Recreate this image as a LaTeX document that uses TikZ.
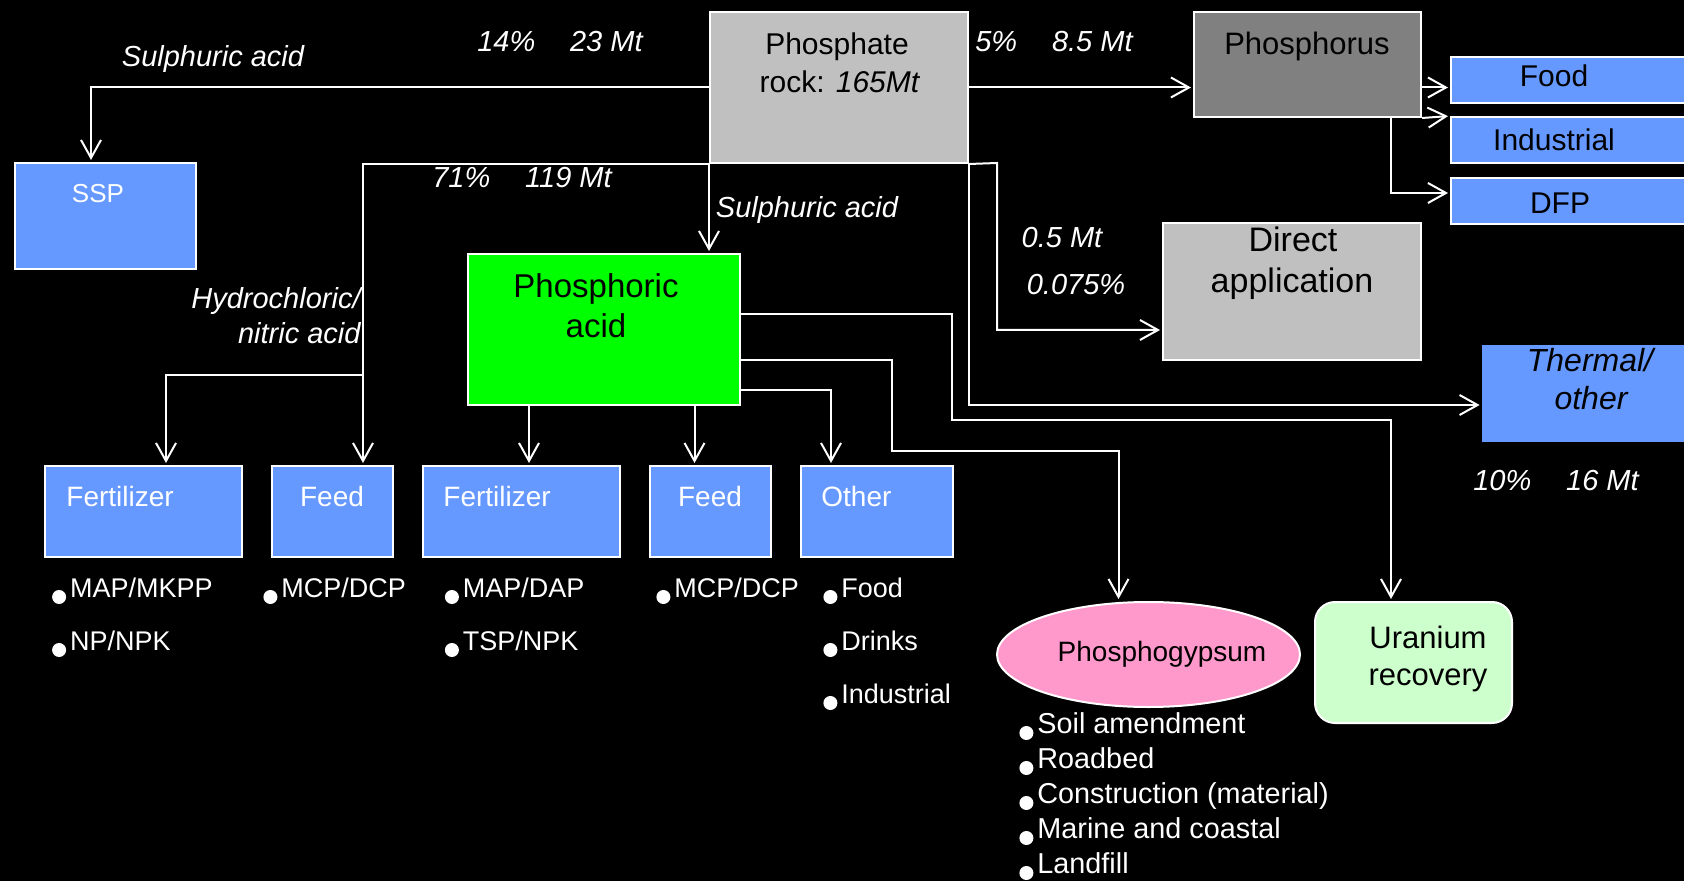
\documentclass[tikz,border=0pt]{standalone}
\usepackage{fontspec}
\setmainfont{Liberation Sans}
\usepackage{xcolor}
\usepackage{tikz}
\usetikzlibrary{arrows.meta,fit,shapes.geometric}
\definecolor{boxblue}{HTML}{6699FF}
\definecolor{acidgreen}{HTML}{00FF00}
\definecolor{rockgray}{HTML}{C0C0C0}
\definecolor{phosgray}{HTML}{808080}
\definecolor{gypsumpink}{HTML}{FF99CC}
\definecolor{uranmint}{HTML}{CCFFCC}

\newcommand{\dotitem}{\tikz[baseline=0pt]\fill[white] (0pt,0pt) circle[radius=3.5pt];\hspace{2pt}}
\newcommand{\flowgap}{\hspace{1.2em}}

\begin{document}
\begin{tikzpicture}[x=0.5pt, y=-0.5pt,
  box/.style={draw=white, line width=1pt, inner sep=0pt},
  flow/.style={draw=white, line width=1pt, shorten >=1pt,
    -{Straight Barb[length=9pt,width=10pt,line width=1pt]}},
  txt/.style={inner sep=0pt, anchor=base},
  dark/.style={txt, text=black},
  lite/.style={txt, text=white},
  flowlbl/.style={lite, font=\fontsize{14.5}{17}\selectfont\itshape}]

\fill[black] (0,0) rectangle (1684,881);
\useasboundingbox (0,0) rectangle (1684,881);
\clip (0,0) rectangle (1684,881);

% boxes
\node[box, fill=rockgray, fit={(710,12) (968,163)}] (rock) {};
\node[box, fill=phosgray, fit={(1194,12) (1421,117)}] (phos) {};
\node[box, fill=boxblue, fit={(1451,57) (1700,103)}] (food) {};
\node[box, fill=boxblue, fit={(1451,117) (1700,163)}] (ind) {};
\node[box, fill=boxblue, fit={(1451,178) (1700,224)}] (dfp) {};
\node[box, fill=rockgray, fit={(1163,223) (1421,360)}] (direct) {};
\node[fill=boxblue, inner sep=0pt, fit={(1482,345) (1700,442)}] (thermal) {};
\node[box, fill=boxblue, fit={(15,163) (196,269)}] (ssp) {};
\node[box, fill=acidgreen, fit={(468,254) (740,405)}] (acid) {};
\node[box, fill=boxblue, fit={(45,466) (242,557)}] (fertA) {};
\node[box, fill=boxblue, fit={(272,466) (393,557)}] (feedA) {};
\node[box, fill=boxblue, fit={(423,466) (620,557)}] (fertB) {};
\node[box, fill=boxblue, fit={(650,466) (771,557)}] (feedB) {};
\node[box, fill=boxblue, fit={(801,466) (953,557)}] (other) {};
\node[box, fill=gypsumpink, ellipse, minimum width=151.5pt, minimum height=52.5pt] (gyp) at (1148.5,654.5) {};
\node[box, fill=uranmint, rounded corners=10pt, fit={(1315,602) (1512,723)}] (uran) {};

% connectors
\coordinate (hcl) at (363,375);
\draw[flow] (rock.west) -| (ssp.north -| 91,0);
\draw[flow] (rock.east) -- (rock.east -| phos.west);
\draw[flow] (phos.east |- rock.east) -- (food.west |- rock.east);
\draw[flow] (phos.south east) -- (ind.north west);
\draw[flow] (phos.south -| 1391,0) |- (dfp.west |- 0,193);
\draw[flow] (rock.south west) -| (feedA.north -| 363,0);
\draw[flow] (hcl) -| (fertA.north -| 166,0);
\draw[flow] (rock.south west) -- (rock.south west |- acid.north);
\draw[flow] (rock.south east) -- (997,163) |- (direct.west |- 0,330);
\draw[flow] (rock.south east) |- (thermal.west |- 0,405);
\draw[flow] (acid.east |- 0,314) -| (952,420) -| (uran.north -| 1391,0);
\draw[flow] (acid.east |- 0,360) -| (892,451) -| (gyp.north -| 1118.5,0);
\draw[flow] (acid.east |- 0,390) -| (other.north -| 831,0);
\draw[flow] (acid.south -| 529,0) -- (fertB.north -| 529,0);
\draw[flow] (acid.south -| 694.5,0) -- (feedB.north -| 694.5,0);

% box texts
\node[dark, font=\fontsize{15}{18}\selectfont] (rockA) at (837,55) {Phosphate};
\node[dark, font=\fontsize{15}{18}\selectfont] (rockB) at (840,93) {rock: \textit{165Mt}};
\node[dark, font=\fontsize{15.5}{18}\selectfont] (phosT) at (1307,55) {Phosphorus};
\node[dark, font=\fontsize{15}{18}\selectfont] (foodT) at (1554,87) {Food};
\node[dark, font=\fontsize{15}{18}\selectfont] (indT) at (1554,151) {Industrial};
\node[dark, font=\fontsize{15}{18}\selectfont] (dfpT) at (1560,214) {DFP};
\node[dark, font=\fontsize{17}{20}\selectfont] (directA) at (1293,252) {Direct};
\node[dark, font=\fontsize{17}{20}\selectfont] (directB) at (1292,293) {application};
\node[dark, font=\fontsize{16}{19}\selectfont\itshape] (thermA) at (1590,372) {Thermal/};
\node[dark, font=\fontsize{16}{19}\selectfont\itshape] (thermB) at (1591,409) {other};
\node[lite, font=\fontsize{13}{16}\selectfont] (sspT) at (98,203) {SSP};
\node[dark, font=\fontsize{16.5}{19}\selectfont] (acidA) at (596,298) {Phosphoric};
\node[dark, font=\fontsize{16.5}{19}\selectfont] (acidB) at (596,338) {acid};
\node[lite, anchor=base west, font=\fontsize{14}{17}\selectfont] (fertAT) at (66,506) {Fertilizer};
\node[lite, font=\fontsize{14}{17}\selectfont] (feedAT) at (332,506) {Feed};
\node[lite, anchor=base west, font=\fontsize{14}{17}\selectfont] (fertBT) at (443,506) {Fertilizer};
\node[lite, font=\fontsize{14}{17}\selectfont] (feedBT) at (710,506) {Feed};
\node[lite, anchor=base west, font=\fontsize{14}{17}\selectfont] (otherT) at (821,506) {Other};
\node[dark, font=\fontsize{14}{17}\selectfont] (gypT) at (1162,661) {Phosphogypsum};
\node[dark, font=\fontsize{15.5}{18}\selectfont] (uranA) at (1428,648) {Uranium};
\node[dark, font=\fontsize{15.5}{18}\selectfont] (uranB) at (1428,685) {recovery};

% flow labels
\node[flowlbl] (sulphA) at (213,67) {Sulphuric acid};
\node[flowlbl] (shareSSP) at (560,52) {14\%\flowgap 23 Mt};
\node[flowlbl] (sharePhos) at (1054,52) {5\%\flowgap 8.5 Mt};
\node[flowlbl] (shareAcid) at (522,188) {71\%\flowgap 119 Mt};
\node[flowlbl] (sulphB) at (807,218) {Sulphuric acid};
\node[flowlbl, anchor=base east] (hclA) at (361,309) {Hydrochloric/};
\node[flowlbl, anchor=base east] (hclB) at (361,344) {nitric acid};
\node[flowlbl] (shareDirA) at (1062,248) {0.5 Mt};
\node[flowlbl] (shareDirB) at (1076,295) {0.075\%};
\node[flowlbl] (shareTherm) at (1556,490) {10\%\flowgap 16 Mt};

% product lists
\node[lite, anchor=base west, font=\fontsize{13.5}{26.5}\selectfont] (fertAlist) at (51.7,597) {
  \begin{minipage}[t]{100pt}
  \dotitem MAP/MKPP\\
  \dotitem NP/NPK
  \end{minipage}};
\node[lite, anchor=base west, font=\fontsize{13.5}{26.5}\selectfont] (feedAlist) at (263,597) {
  \begin{minipage}[t]{100pt}
  \dotitem MCP/DCP
  \end{minipage}};
\node[lite, anchor=base west, font=\fontsize{13.5}{26.5}\selectfont] (fertBlist) at (444.5,597) {
  \begin{minipage}[t]{100pt}
  \dotitem MAP/DAP\\
  \dotitem TSP/NPK
  \end{minipage}};
\node[lite, anchor=base west, font=\fontsize{13.5}{26.5}\selectfont] (feedBlist) at (656,597) {
  \begin{minipage}[t]{100pt}
  \dotitem MCP/DCP
  \end{minipage}};
\node[lite, anchor=base west, font=\fontsize{13.5}{26.5}\selectfont] (otherlist) at (823,597) {
  \begin{minipage}[t]{100pt}
  \dotitem Food\\
  \dotitem Drinks\\
  \dotitem Industrial
  \end{minipage}};
\node[lite, anchor=base west, font=\fontsize{14.4}{17.5}\selectfont] (gyplist) at (1019,733) {
  \begin{minipage}[t]{160pt}
  \dotitem Soil amendment\\
  \dotitem Roadbed\\
  \dotitem Construction (material)\\
  \dotitem Marine and coastal\\
  \dotitem Landfill
  \end{minipage}};
\end{tikzpicture}
\end{document}
